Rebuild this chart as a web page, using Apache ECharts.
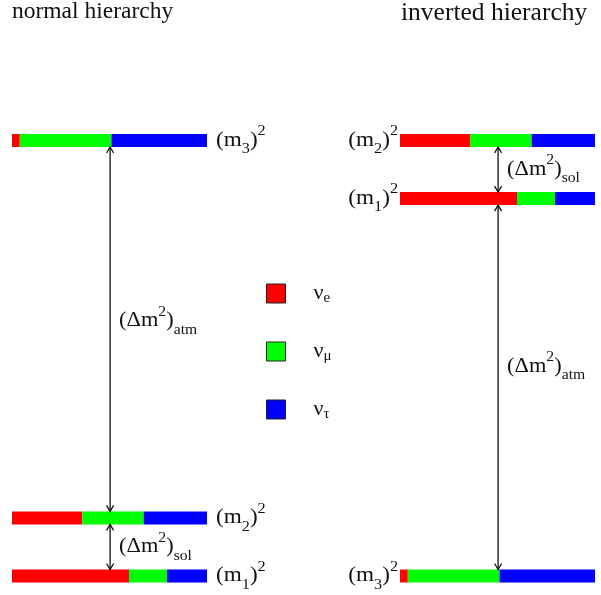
<!DOCTYPE html>
<html>
<head>
<meta charset="utf-8">
<script src="https://cdn.jsdelivr.net/npm/echarts@6/dist/echarts.min.js"></script>
<style>
  html, body { margin: 0; padding: 0; background: #fff; }
  #main { width: 601px; height: 595px; }
</style>
</head>
<body>
<div id="main"></div>
<script>
  // flavours
  const flavors = ['νe', 'νμ', 'ντ'];
  const flavorSubs = ['e', 'μ', 'τ'];
  const flavorColors = ['#ff0000', '#00ff00', '#0000ff'];

  // flavour content of mass states 1, 2, 3 (fraction of the bar)
  const fracE = [0.6, 0.36, 0.04];
  const fracMu = [0.195, 0.315, 0.47];
  const fracTau = [0.205, 0.325, 0.49];

  // levels, bottom to top: which state and its mass squared (arbitrary units)
  const normalStates = [1, 2, 3];
  const normalMass2 = [0, 1, 7.5];
  const invertedStates = [3, 1, 2];
  const invertedMass2 = [0, 6.5, 7.5];

  // splittings: name, lower level, upper level
  const normalGaps = [['sol', 0, 1], ['atm', 1, 2]];
  const invertedGaps = [['atm', 0, 1], ['sol', 1, 2]];

  const titles = ['normal hierarchy', 'inverted hierarchy'];

  const SERIF = '"Liberation Serif", "DejaVu Serif", serif';
  const BAR_H = 13;
  const ARROW_X = 0.503;
  const INK = '#111';
  const TEXT_SX = 1.12;
  const fracs = [fracE, fracMu, fracTau];

  const RICH = {
    p: { fontFamily: SERIF, fontSize: 20, lineHeight: 32, fill: INK },
    sub: { fontFamily: SERIF, fontSize: 14, lineHeight: 16, verticalAlign: 'bottom', fill: INK },
    sup: { fontFamily: SERIF, fontSize: 14, lineHeight: 14, verticalAlign: 'top', fill: INK }
  };

  function flavorData(f, states, mass2) {
    return states.map((s, i) => {
      const k = s - 1;
      let start = 0;
      for (let j = 0; j < f; j++) start += fracs[j][k];
      return [mass2[i], start, start + fracs[f][k]];
    });
  }

  function renderBar(params, api) {
    const y = api.value(0);
    const p0 = api.coord([api.value(1), y]);
    const p1 = api.coord([api.value(2), y]);
    return {
      type: 'rect',
      shape: { x: p0[0], y: p0[1] - BAR_H / 2, width: p1[0] - p0[0], height: BAR_H },
      style: { fill: api.visual('color') }
    };
  }

  function levelRenderer(side) {
    return function (params, api) {
      const y = api.value(0);
      const state = api.value(1);
      const pt = api.coord([side === 'right' ? 1 : 0, y]);
      return {
        type: 'text',
        x: side === 'right' ? pt[0] + 9 : pt[0] - 2,
        y: pt[1],
        scaleX: 1.16,
        style: {
          text: '{p|(m}{sub|' + state + '}{p|)}{sup|2}',
          rich: RICH,
          align: side === 'right' ? 'left' : 'right',
          verticalAlign: 'middle',
          fill: INK
        }
      };
    };
  }

  function arrowRenderer(labelShift, gapNames) {
    return function (params, api) {
      const x = api.value(0);
      const lo = api.coord([x, api.value(1)]);
      const hi = api.coord([x, api.value(2)]);
      const px = lo[0];
      const yb = lo[1] - BAR_H / 2;
      const yt = hi[1] + BAR_H / 2;
      const gapName = gapNames[params.dataIndex];
      const lineStyle = { stroke: INK, lineWidth: 1.3, fill: null };
      return {
        type: 'group',
        children: [
          { type: 'line', shape: { x1: px, y1: yb, x2: px, y2: yt }, style: lineStyle },
          { type: 'polyline', shape: { points: [[px - 3.5, yt + 6], [px, yt], [px + 3.5, yt + 6]] }, style: lineStyle },
          { type: 'polyline', shape: { points: [[px - 3.5, yb - 6], [px, yb], [px + 3.5, yb - 6]] }, style: lineStyle },
          {
            type: 'text',
            x: px + 9,
            y: (yb + yt) / 2 + labelShift[gapName],
            scaleX: TEXT_SX,
            style: {
              text: '{p|(Δm}{sup|2}{p|)}{sub|' + gapName + '}',
              rich: RICH,
              align: 'left',
              verticalAlign: 'middle',
              fill: INK
            }
          }
        ]
      };
    };
  }

  function gapData(gaps, mass2) {
    return gaps.map(g => [ARROW_X, mass2[g[1]], mass2[g[2]]]);
  }

  const panels = [
    { states: normalStates, mass2: normalMass2, gaps: normalGaps, side: 'right', shift: { sol: 0, atm: -8 } },
    { states: invertedStates, mass2: invertedMass2, gaps: invertedGaps, side: 'left', shift: { sol: 0, atm: -21 } }
  ];

  const series = [];
  panels.forEach((pn, gi) => {
    flavors.forEach((name, f) => {
      series.push({
        type: 'custom',
        name: name,
        xAxisIndex: gi,
        yAxisIndex: gi,
        itemStyle: { color: flavorColors[f] },
        encode: { x: [1, 2], y: 0 },
        renderItem: renderBar,
        data: flavorData(f, pn.states, pn.mass2)
      });
    });
    series.push({
      type: 'custom',
      name: 'levels' + gi,
      xAxisIndex: gi,
      yAxisIndex: gi,
      encode: { x: 1, y: 0 },
      silent: true,
      renderItem: levelRenderer(pn.side),
      data: pn.states.map((s, i) => [pn.mass2[i], s])
    });
    series.push({
      type: 'custom',
      name: 'gaps' + gi,
      xAxisIndex: gi,
      yAxisIndex: gi,
      encode: { x: 0, y: [1, 2] },
      silent: true,
      renderItem: arrowRenderer(pn.shift, pn.gaps.map(g => g[0])),
      data: gapData(pn.gaps, pn.mass2)
    });
  });

  const chart = echarts.init(document.getElementById('main'));
  chart.setOption({
    backgroundColor: '#fff',
    animation: false,
    title: [
      { text: titles[0], left: 12, top: 0, padding: 0,
        textStyle: { fontFamily: SERIF, fontSize: 23.5, fontWeight: 'normal', color: INK } },
      { text: titles[1], left: 401, top: 0, padding: 0,
        textStyle: { fontFamily: SERIF, fontSize: 25.5, fontWeight: 'normal', color: INK } }
    ],
    legend: {
      data: flavors,
      orient: 'vertical',
      left: 266,
      top: 282.5,
      padding: 0,
      itemWidth: 19,
      itemHeight: 19,
      itemGap: 35,
      icon: 'rect',
      selectedMode: false,
      itemStyle: { borderColor: '#222', borderWidth: 1 },
      formatter: name => '{n|ν}{s|' + flavorSubs[flavors.indexOf(name)] + '}',
      textStyle: {
        rich: {
          n: { fontFamily: SERIF, fontSize: 22, lineHeight: 24, color: INK, padding: [0, 0, 0, 23] },
          s: { fontFamily: SERIF, fontSize: 15, lineHeight: 1, color: INK, verticalAlign: 'bottom' }
        }
      }
    },
    grid: [
      { left: 12, width: 195, top: 140.5, bottom: 19 },
      { left: 400, width: 195, top: 140.5, bottom: 19 }
    ],
    xAxis: [
      { type: 'value', gridIndex: 0, min: 0, max: 1, show: false },
      { type: 'value', gridIndex: 1, min: 0, max: 1, show: false }
    ],
    yAxis: [
      { type: 'value', gridIndex: 0, min: 0, max: 7.5, show: false },
      { type: 'value', gridIndex: 1, min: 0, max: 7.5, show: false }
    ],
    series: series
  });
</script>
</body>
</html>
